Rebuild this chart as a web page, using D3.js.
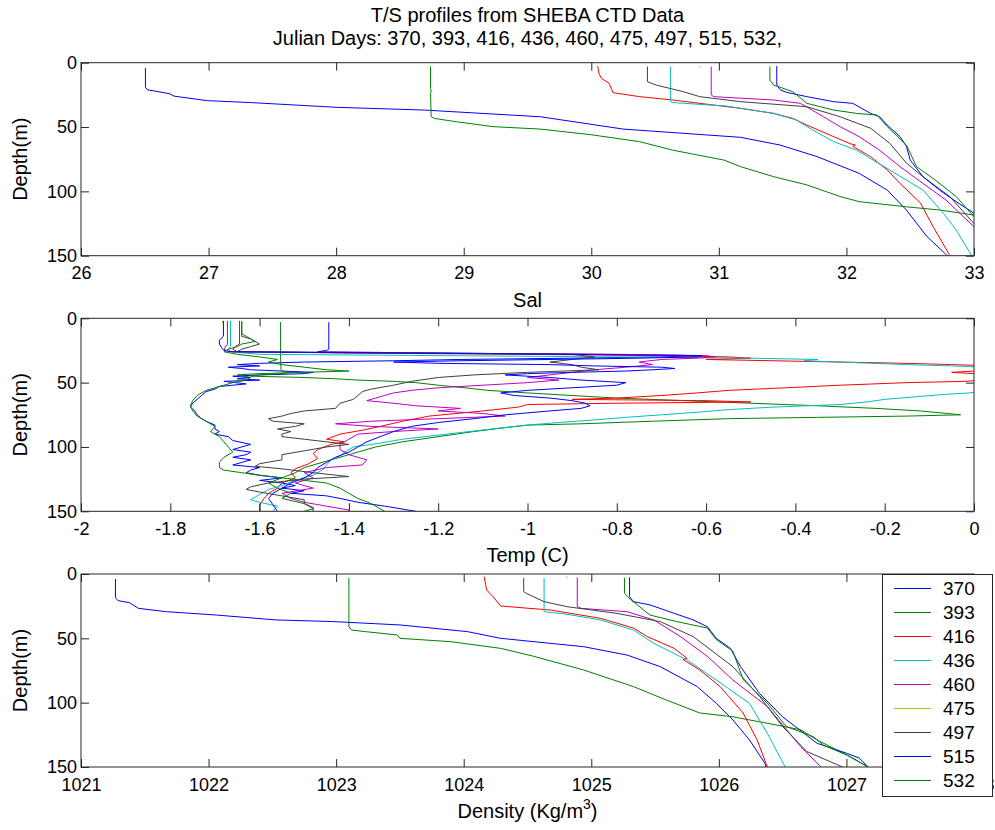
<!DOCTYPE html>
<html>
<head>
<meta charset="utf-8">
<script src="https://cdn.jsdelivr.net/npm/d3@7/dist/d3.min.js"></script>
<style>
  html, body { margin: 0; padding: 0; background: #fff; }
  svg text { font-family: "Liberation Sans", Arial, Helvetica, sans-serif; fill: #000; }
</style>
</head>
<body>
<svg id="chart" width="995" height="830"></svg>
<script>
// ---------------- DATA ----------------
const days = ["370", "393", "416", "436", "460", "475", "497", "515", "532"];
const colors = ["#0000ff", "#008000", "#ff0000", "#00bfbf", "#bf00bf", "#bfbf00", "#404040", "#0000ff", "#008000"];

const salTicks = [26, 27, 28, 29, 30, 31, 32, 33];
const tempTicks = [-2, -1.8, -1.6, -1.4, -1.2, -1, -0.8, -0.6, -0.4, -0.2, 0];
const denTicks = [1021, 1022, 1023, 1024, 1025, 1026, 1027, 1028];
const depthTicks = [0, 50, 100, 150];

// Salinity profiles: [depth (m), salinity]
const sal370 = [[4,26.505],[19,26.505],[21,26.52],[24,26.69],[26,26.73],[29.5,26.99],[31,27.33],[34.7,28.01],[36.8,28.69],[42,29.6],[51.6,30.25],[58,31.17],[64,31.48],[73,31.77],[86,32.1],[99,32.32],[114.5,32.47],[135,32.63],[148,32.77],[150,32.79]];
const sal393 = [[3,28.74],[20,28.74],[22,28.745],[24,28.74],[42,28.745],[43.3,28.77],[46,28.95],[49.7,29.23],[51.6,29.6],[56,30.0],[61.4,30.38],[68,30.64],[75.7,31.04],[80.8,31.17],[88.6,31.43],[95,31.69],[104,31.95],[108,32.1],[112,32.47],[114.5,32.73],[118.4,33.0],[121,33.2]];
const sal416 = [[2.6,30.05],[8.3,30.06],[12.2,30.08],[16,30.14],[23.3,30.17],[26.4,30.38],[29,30.64],[35.5,31.17],[39.4,31.43],[43.3,31.58],[48.5,31.69],[56.2,31.87],[63,32.03],[64,32.07],[65,32.05],[73,32.19],[83.4,32.32],[93.8,32.42],[109,32.58],[127.5,32.68],[148,32.8],[150,32.81]];
const sal436 = [[3,30.62],[30.3,30.62],[31,30.64],[33.7,31.06],[39.4,31.43],[44.6,31.61],[49.7,31.69],[61.4,31.9],[68,32.08],[83.4,32.34],[99,32.6],[117,32.76],[130,32.86],[148,32.97],[150,32.98]];
const sal460 = [[3,30.94],[25,30.94],[26.4,30.96],[29,31.43],[31.6,31.64],[42,31.82],[49.7,31.95],[57.5,32.1],[68,32.26],[80.8,32.42],[93.8,32.6],[106.7,32.78],[127.5,33.0],[135,33.1]];
const sal475 = [[2.6,30.85],[3.6,30.85]];
const sal497 = [[3,30.44],[14.8,30.44],[17.4,30.51],[22.5,30.72],[26.4,30.85],[30.3,31.17],[34.2,31.69],[42,31.95],[51,32.19],[62.7,32.34],[78,32.47],[88.6,32.6],[104,32.81],[125,33.0],[130,33.05]];
const sal515 = [[2.6,31.454],[17.4,31.454],[21,31.48],[23,31.53],[26.4,31.69],[30.3,31.9],[31.6,32.05],[39.4,32.19],[42,32.26],[48.5,32.32],[57.5,32.42],[65,32.47],[75.7,32.5],[88.6,32.6],[99,32.73],[108,32.86],[117,33.0],[122,33.1]];
const sal532 = [[3,31.4],[13.5,31.4],[17.4,31.43],[22.5,31.58],[31.6,31.69],[36.8,31.9],[39.4,32.08],[40.7,32.24],[49.7,32.32],[64,32.47],[80.8,32.55],[90,32.68],[104,32.86],[119.7,33.0],[125,33.1]];

// Temperature profiles: [depth (m), temperature (C)]
const temp370 = [[3,-1.445],[24,-1.445],[25,-1.45],[26,-1.47],[27,-1.2],[28,-0.85],[29,-0.62],[30,-0.7],[31,-0.9],[32,-1.15],[33,-1.3],[34,-1.5],[35,-1.6],[36,-1.65],[37,-1.6],[38,-1.67],[39,-1.64],[40,-1.62],[41,-1.55],[42,-1.48],[43,-1.5],[44,-1.6],[45,-1.66],[46,-1.62],[47,-1.65],[48,-1.6],[49,-1.68],[51,-1.63],[53,-1.69],[55,-1.7],[57,-1.72],[60,-1.73],[63,-1.74],[66,-1.75],[69,-1.755],[72,-1.745],[75,-1.74],[78,-1.73],[80,-1.72],[83,-1.7],[86,-1.7],[88,-1.69],[90,-1.7],[92,-1.67],[95,-1.66],[98,-1.62],[100,-1.64],[102,-1.66],[104,-1.62],[106,-1.63],[108,-1.66],[110,-1.62],[112,-1.64],[114,-1.66],[116,-1.6],[118,-1.62],[120,-1.63],[122,-1.6],[124,-1.55],[126,-1.6],[128,-1.55],[130,-1.52],[132,-1.55],[134,-1.5],[136,-1.53],[138,-1.45],[140,-1.42],[143,-1.38],[146,-1.32],[150,-1.25]];
const temp393 = [[3,-1.553],[30,-1.553],[40,-1.552],[41,-1.55],[42,-1.53],[43,-1.55],[44,-1.6],[45,-1.62],[46,-1.5],[47,-1.43],[48,-1.38],[49,-1.3],[50,-1.25],[52,-1.2],[54,-1.14],[56,-1.09],[58,-1.0],[60,-0.9],[62,-0.8],[64,-0.65],[66,-0.5],[68,-0.35],[70,-0.22],[72,-0.12],[74,-0.06],[75,-0.03],[76,-0.15],[77,-0.35],[78,-0.55],[80,-0.72],[82,-0.88],[83,-1.0],[85,-1.05],[88,-1.12],[92,-1.2],[96,-1.28],[100,-1.34],[104,-1.38],[108,-1.42],[112,-1.46],[116,-1.5],[120,-1.52],[124,-1.55],[128,-1.58],[132,-1.56],[136,-1.53],[140,-1.55],[144,-1.5],[148,-1.48],[150,-1.5]];
const temp416 = [[2,-1.645],[20,-1.645],[22,-1.655],[24,-1.66],[26,-1.65],[27,-1.4],[28,-1.0],[29,-0.7],[30,-0.55],[31,-0.5],[32,-0.6],[33,-0.45],[34,-0.3],[35,-0.15],[36,-0.05],[37,0.05],[39,0.1],[41,0.0],[42,-0.05],[44,0.05],[46,0.08],[48,0.02],[49,-0.02],[50,-0.15],[52,-0.3],[54,-0.42],[56,-0.55],[58,-0.62],[60,-0.7],[62,-0.8],[63,-0.9],[64,-0.6],[65,-0.5],[66,-0.8],[67,-1.0],[69,-1.02],[72,-1.1],[76,-1.22],[80,-1.28],[84,-1.33],[87,-1.37],[90,-1.42],[94,-1.45],[96,-1.41],[98,-1.44],[102,-1.47],[105,-1.48],[109,-1.47],[113,-1.49],[117,-1.52],[120,-1.53],[124,-1.52],[128,-1.55],[132,-1.56],[136,-1.58],[140,-1.59],[145,-1.6],[150,-1.6]];
const temp436 = [[2,-1.665],[22,-1.665],[24,-1.67],[26,-1.665],[28,-1.6],[29,-1.2],[30,-0.8],[31,-0.5],[32,-0.35],[33,-0.38],[34,-0.3],[36,-0.15],[37,-0.05],[38,0.02],[40,0.1],[45,0.15],[50,0.12],[55,0.05],[57,0.01],[58,-0.01],[59,-0.06],[61,-0.13],[63,-0.2],[65,-0.24],[67,-0.3],[69,-0.45],[71,-0.55],[73,-0.62],[75,-0.7],[77,-0.78],[79,-0.85],[81,-0.93],[83,-1.0],[86,-1.08],[90,-1.18],[94,-1.28],[97,-1.33],[100,-1.39],[104,-1.41],[107,-1.42],[110,-1.44],[114,-1.45],[118,-1.46],[122,-1.48],[126,-1.52],[130,-1.55],[133,-1.58],[137,-1.6],[141,-1.62],[143,-1.6],[146,-1.56],[150,-1.57]];
const temp460 = [[2,-1.672],[20,-1.672],[24,-1.68],[26,-1.67],[27,-1.3],[28,-0.8],[29,-0.6],[30,-0.58],[31,-0.62],[32,-0.7],[34,-0.75],[36,-0.72],[38,-0.78],[40,-0.85],[42,-0.9],[44,-0.95],[46,-1.0],[48,-0.93],[50,-1.0],[52,-1.1],[54,-1.2],[56,-1.26],[58,-1.3],[60,-1.32],[62,-1.34],[64,-1.36],[66,-1.3],[68,-1.25],[70,-1.15],[72,-1.2],[74,-1.1],[76,-1.05],[78,-1.2],[80,-1.35],[82,-1.43],[84,-1.35],[86,-1.2],[88,-1.3],[90,-1.38],[94,-1.4],[98,-1.42],[102,-1.42],[106,-1.4],[110,-1.36],[114,-1.37],[116,-1.45],[120,-1.5],[124,-1.48],[128,-1.52],[132,-1.48],[136,-1.55],[140,-1.53],[143,-1.5],[146,-1.45],[149,-1.4],[150,-1.4]];
const temp475 = [[2,-1.683],[3.5,-1.683]];
const temp497 = [[2,-1.64],[14,-1.64],[16,-1.62],[18,-1.61],[20,-1.6],[22,-1.62],[24,-1.64],[26,-1.65],[27,-1.2],[28,-0.9],[30,-0.85],[32,-0.9],[34,-0.95],[36,-0.9],[38,-0.88],[40,-0.84],[42,-1.0],[44,-1.12],[46,-1.2],[49,-1.26],[52,-1.3],[55,-1.35],[57,-1.37],[60,-1.38],[63,-1.39],[66,-1.42],[70,-1.43],[72,-1.5],[74,-1.53],[76,-1.55],[78,-1.58],[80,-1.57],[82,-1.5],[84,-1.52],[86,-1.56],[88,-1.53],[90,-1.55],[92,-1.55],[94,-1.5],[96,-1.45],[98,-1.4],[100,-1.45],[103,-1.5],[106,-1.55],[110,-1.55],[113,-1.6],[115,-1.61],[117,-1.55],[120,-1.48],[123,-1.4],[125,-1.5],[128,-1.58],[131,-1.62],[133,-1.63],[135,-1.6],[138,-1.55],[141,-1.5],[144,-1.5],[147,-1.48],[150,-1.48]];
const temp515 = [[2,-1.681],[14,-1.681],[17,-1.69],[20,-1.69],[23,-1.685],[25,-1.68],[26,-1.66],[27,-1.3],[28,-0.9],[29,-0.61],[30,-0.62],[31,-0.75],[32,-0.95],[33,-1.15],[34,-1.3],[35,-1.2],[36,-0.95],[37,-0.85],[38,-0.7],[39,-0.67],[40,-0.72],[41,-0.78],[42,-0.9],[43,-1.0],[44,-1.05],[46,-0.95],[48,-0.88],[50,-0.78],[52,-0.8],[54,-0.9],[56,-1.0],[58,-1.06],[60,-1.03],[62,-0.95],[64,-0.9],[66,-0.87],[68,-0.86],[70,-0.88],[72,-0.95],[75,-1.05],[78,-1.12],[81,-1.2],[84,-1.26],[88,-1.3],[92,-1.33],[96,-1.36],[100,-1.38],[104,-1.4],[108,-1.43],[112,-1.45],[116,-1.47],[120,-1.48],[124,-1.5],[128,-1.53],[132,-1.55],[136,-1.57],[140,-1.58],[145,-1.57],[150,-1.56]];
const temp532 = [[3,-1.64],[12,-1.64],[14,-1.63],[16,-1.62],[18,-1.61],[20,-1.64],[22,-1.65],[24,-1.67],[26,-1.68],[28,-1.65],[30,-1.6],[32,-1.56],[34,-1.58],[36,-1.55],[38,-1.5],[40,-1.45],[41,-1.4],[42,-1.5],[43,-1.6],[44,-1.65],[46,-1.62],[48,-1.63],[50,-1.66],[52,-1.68],[54,-1.7],[56,-1.72],[60,-1.74],[64,-1.75],[68,-1.755],[72,-1.75],[76,-1.74],[80,-1.72],[84,-1.7],[88,-1.71],[92,-1.69],[96,-1.68],[100,-1.67],[104,-1.66],[108,-1.68],[112,-1.69],[116,-1.69],[118,-1.68],[120,-1.64],[122,-1.6],[124,-1.55],[126,-1.5],[128,-1.45],[132,-1.42],[136,-1.4],[140,-1.38],[144,-1.35],[150,-1.32]];

// Density profiles: [depth (m), density (kg/m^3)]
const den370 = [[3.9,1021.27],[18.4,1021.27],[20.7,1021.29],[22.3,1021.38],[26.7,1021.45],[29.3,1021.67],[31.9,1022.06],[35.7,1022.53],[37,1022.98],[39.6,1023.5],[44.8,1024.03],[50,1024.29],[56.5,1024.94],[63,1025.28],[72,1025.54],[87.5,1025.83],[100.5,1025.98],[113.4,1026.11],[129,1026.24],[147,1026.36],[150,1026.37]];
const den393 = [[3,1023.1],[41,1023.1],[43.5,1023.12],[44.8,1023.23],[47.4,1023.48],[50,1023.5],[52.6,1023.9],[57.8,1024.29],[64,1024.55],[74.6,1024.94],[87.5,1025.33],[98,1025.59],[108,1025.85],[111,1026.11],[116,1026.38],[121,1026.64],[129,1026.77],[142,1027.03],[150,1027.17]];
const den416 = [[2,1024.16],[12.4,1024.18],[17.6,1024.23],[24.9,1024.29],[28,1024.68],[34.4,1025.07],[42,1025.33],[48.7,1025.44],[57.8,1025.65],[65.5,1025.75],[66.5,1025.72],[74.6,1025.85],[87.5,1026.01],[108,1026.19],[129,1026.3],[150,1026.38]];
const den436 = [[3,1024.63],[29.3,1024.63],[31.3,1024.81],[35.7,1025.07],[43.5,1025.33],[53.9,1025.49],[66.8,1025.75],[82.4,1025.98],[100.5,1026.24],[123.8,1026.38],[150,1026.52]];
const den460 = [[2.6,1024.89],[25.4,1024.89],[26.7,1024.92],[29.3,1025.28],[35.7,1025.49],[48.7,1025.7],[64,1025.91],[82.4,1026.11],[103,1026.38],[134,1026.64],[150,1026.8]];
const den475 = [[2,1024.81],[3.4,1024.81]];
const den497 = [[3,1024.47],[13.7,1024.47],[15,1024.49],[21.5,1024.63],[25.4,1024.81],[30.6,1025.2],[37,1025.54],[48.7,1025.8],[72,1026.11],[95.3,1026.32],[118.6,1026.5],[138,1026.69],[150,1026.97]];
const den515 = [[2.6,1025.3],[17.6,1025.3],[21.5,1025.33],[24,1025.46],[30.6,1025.65],[35.7,1025.8],[41,1025.91],[50,1025.98],[57.8,1026.09],[72,1026.17],[93,1026.32],[111,1026.5],[131.6,1026.77],[139.3,1027.0],[143,1027.1],[150,1027.17]];
const den532 = [[3,1025.26],[15,1025.26],[20,1025.31],[31.9,1025.46],[37,1025.67],[42,1025.91],[51,1025.98],[60,1026.11],[82,1026.19],[100.5,1026.38],[118.6,1026.53],[126.4,1026.74],[133,1026.82],[140.6,1027.0],[150,1027.17]];

const salSeries = [sal370, sal393, sal416, sal436, sal460, sal475, sal497, sal515, sal532];
const tempSeries = [temp370, temp393, temp416, temp436, temp460, temp475, temp497, temp515, temp532];
const denSeries = [den370, den393, den416, den436, den460, den475, den497, den515, den532];

// ---------------- LAYOUT ----------------
const svg = d3.select("#chart");
const L = 81, R = 974, PH = 193;
const tops = [62.7, 318.3, 574];
const TICK_FS = 18, LABEL_FS = 20;

svg.append("text").attr("x", (L + R) / 2).attr("y", 22).attr("text-anchor", "middle")
  .attr("font-size", LABEL_FS).text("T/S profiles from SHEBA CTD Data");
svg.append("text").attr("x", (L + R) / 2).attr("y", 45).attr("text-anchor", "middle")
  .attr("font-size", LABEL_FS).text("Julian Days: " + days.join(", ") + ",");

const panels = [
  { series: salSeries, domain: [26, 33], ticks: salTicks, label: "Sal" },
  { series: tempSeries, domain: [-2, 0], ticks: tempTicks, label: "Temp (C)" },
  { series: denSeries, domain: [1021, 1028], ticks: denTicks, label: "Density" }
];

panels.forEach((p, i) => {
  const top = tops[i];
  const x = d3.scaleLinear().domain(p.domain).range([L, R]);
  const y = d3.scaleLinear().domain([0, 150]).range([top, top + PH]);
  const g = svg.append("g");

  const clipId = "clip" + i;
  svg.append("clipPath").attr("id", clipId).append("rect")
    .attr("x", L).attr("y", top).attr("width", R - L).attr("height", PH);

  const line = d3.line().x(d => x(d[1])).y(d => y(d[0]));
  const lines = g.append("g").attr("clip-path", `url(#${clipId})`);
  p.series.forEach((s, k) => {
    lines.append("path").datum(s).attr("d", line)
      .attr("fill", "none").attr("stroke", colors[k]).attr("stroke-width", 1)
      .attr("stroke-linejoin", "round");
  });

  const axisColor = "#262626";
  const bottom = g.append("g").attr("transform", `translate(0,${top + PH})`)
    .call(d3.axisBottom(x).tickValues(p.ticks).tickFormat(v => String(v)).tickSize(-8).tickPadding(11));
  const topAx = g.append("g").attr("transform", `translate(0,${top})`)
    .call(d3.axisTop(x).tickValues(p.ticks).tickFormat("").tickSize(-8));
  const left = g.append("g").attr("transform", `translate(${L},0)`)
    .call(d3.axisLeft(y).tickValues(depthTicks).tickFormat(v => String(v)).tickSize(-8).tickPadding(4));
  const right = g.append("g").attr("transform", `translate(${R},0)`)
    .call(d3.axisRight(y).tickValues(depthTicks).tickFormat("").tickSize(-8));
  [bottom, topAx, left, right].forEach(a => {
    a.select(".domain").remove();
    a.selectAll("line").attr("stroke", axisColor);
    a.selectAll("text").attr("font-size", TICK_FS).attr("font-family", "Liberation Sans, Arial, sans-serif").attr("fill", "#000");
  });
  g.append("rect").attr("x", L).attr("y", top).attr("width", R - L).attr("height", PH)
    .attr("fill", "none").attr("stroke", axisColor).attr("stroke-width", 1);

  g.append("text").attr("transform", `translate(27,${top + PH / 2}) rotate(-90)`)
    .attr("text-anchor", "middle").attr("font-size", LABEL_FS).text("Depth(m)");

  const xl = g.append("text").attr("x", (L + R) / 2).attr("y", top + PH + 51)
    .attr("text-anchor", "middle").attr("font-size", LABEL_FS);
  if (i < 2) {
    xl.text(p.label);
  } else {
    xl.append("tspan").text("Density (Kg/m");
    xl.append("tspan").attr("font-size", 14).attr("dy", -9).text("3");
    xl.append("tspan").attr("dy", 9).text(")");
  }
});

// ---------------- LEGEND ----------------
const lg = svg.append("g");
const lx = 882.5, ly = 574.5, lw = 110, lh = 222;
lg.append("rect").attr("x", lx).attr("y", ly).attr("width", lw).attr("height", lh)
  .attr("fill", "#fff").attr("stroke", "#262626").attr("stroke-width", 1);
days.forEach((dname, k) => {
  const cy = 588.5 + k * 24;
  lg.append("line").attr("x1", 894).attr("x2", 931).attr("y1", cy).attr("y2", cy)
    .attr("stroke", colors[k]).attr("stroke-width", 1);
  lg.append("text").attr("x", 943).attr("y", cy).attr("dy", "0.36em")
    .attr("font-size", 19).text(dname);
});
</script>
</body>
</html>
